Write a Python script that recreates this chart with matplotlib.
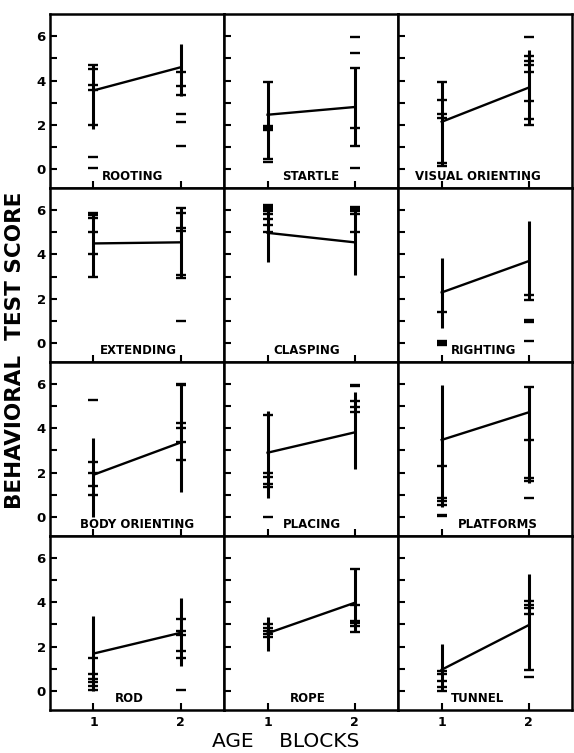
import matplotlib.pyplot as plt
from matplotlib.ticker import FixedLocator

# panel names, row by row
labels = ["ROOTING", "STARTLE", "VISUAL ORIENTING",
          "EXTENDING", "CLASPING", "RIGHTING",
          "BODY ORIENTING", "PLACING", "PLATFORMS",
          "ROD", "ROPE", "TUNNEL"]

blocks = [1, 2]

# mean score at age block 1 and 2
mean1 = [3.55, 2.45, 2.13, 4.50, 4.98, 2.28, 1.90, 2.90, 3.48, 1.68, 2.60, 0.95]
mean2 = [4.60, 2.80, 3.68, 4.55, 4.55, 3.70, 3.36, 3.82, 4.73, 2.62, 3.98, 2.97]

# vertical range bars
bar1_lo = [1.80, 0.45, 0.15, 3.00, 3.65, 0.65, 0.00, 0.87, 0.46, 0.00, 1.80, 0.00]
bar1_hi = [4.75, 3.95, 3.95, 5.90, 6.30, 3.85, 3.55, 4.80, 5.95, 3.38, 3.35, 2.10]
bar2_lo = [3.30, 1.05, 1.98, 3.00, 3.05, 1.93, 1.10, 2.18, 1.53, 1.10, 2.65, 0.95]
bar2_hi = [5.65, 4.55, 5.40, 6.10, 6.20, 5.50, 6.00, 5.65, 5.88, 4.18, 5.50, 5.30]

# individual scores (short dashes)
scores1 = [
    [4.7, 4.5, 3.8, 3.55, 2.0, 0.55, 0.05],
    [3.95, 1.95, 1.85, 1.75, 0.45, 0.3],
    [3.95, 3.1, 2.5, 2.3, 0.25, 0.15],
    [5.9, 5.8, 5.65, 5.0, 4.0, 3.0],
    [6.25, 6.15, 6.05, 5.95, 5.85, 5.6, 5.35, 5.0],
    [1.4, 0.1, 0.0, -0.1],
    [5.3, 2.5, 2.0, 1.4, 1.0],
    [4.6, 2.0, 1.8, 1.5, 1.35, 0.0],
    [2.3, 0.85, 0.7, 0.55, 0.1, 0.05],
    [1.5, 0.75, 0.55, 0.4, 0.2, 0.05],
    [3.0, 2.85, 2.7, 2.55, 2.45],
    [0.9, 0.75, 0.45, 0.15, 0.0],
]
scores2 = [
    [4.4, 3.75, 3.35, 2.5, 2.1, 1.05],
    [5.95, 5.25, 4.55, 1.85, 1.05, 0.05],
    [5.95, 5.1, 4.9, 4.7, 4.4, 3.05, 2.25, 2.0],
    [6.1, 5.9, 5.2, 5.05, 3.05, 2.95, 1.0],
    [6.15, 6.05, 5.95, 5.85, 5.0],
    [2.15, 1.95, 1.05, 0.95, 0.1],
    [6.0, 5.95, 4.25, 4.0, 3.4, 2.55],
    [5.95, 5.9, 5.25, 4.95, 4.75],
    [5.88, 3.48, 1.75, 1.6, 0.85],
    [3.25, 2.7, 2.5, 1.8, 1.5, 0.05],
    [5.5, 3.9, 3.15, 3.05, 2.95, 2.65],
    [4.05, 3.9, 3.75, 3.45, 0.95, 0.6],
]

# where the panel names sit (x in block units)
label_x = [1.45, 1.49, 1.41, 1.52, 1.45, 1.48, 1.50, 1.51, 1.64, 1.41, 1.46, 1.41]

plt.rcParams['font.family'] = ['DejaVu Sans']

fig, axes = plt.subplots(4, 3, figsize=(5.74, 7.53), dpi=100, sharex=True, sharey=True)
fig.subplots_adjust(left=0.087, right=0.997, top=0.981, bottom=0.057, hspace=0, wspace=0)

for i, ax in enumerate(axes.flat):
    row, col = divmod(i, 3)

    ax.vlines(1, bar1_lo[i], bar1_hi[i], color='black', lw=2.2)
    ax.vlines(2, bar2_lo[i], bar2_hi[i], color='black', lw=2.2)
    ax.plot(blocks, [mean1[i], mean2[i]], color='black', lw=1.7)
    ax.plot([1] * len(scores1[i]), scores1[i], ls='none', marker='_',
            ms=6.5, mew=1.7, color='black')
    ax.plot([2] * len(scores2[i]), scores2[i], ls='none', marker='_',
            ms=6.5, mew=1.7, color='black')

    ax.text(label_x[i], -0.5, labels[i], ha='center', va='baseline',
            fontsize=8.5, fontweight='bold')

    ax.set_xlim(0.5, 2.5)
    ax.set_ylim(-0.88, 7.0)
    ax.xaxis.set_major_locator(FixedLocator(blocks))
    ax.yaxis.set_major_locator(FixedLocator([0, 2, 4, 6]))
    ax.yaxis.set_minor_locator(FixedLocator([1, 3, 5]))
    ax.tick_params(axis='both', which='both', direction='in', length=5, width=1.5,
                   top=False, right=False)
    ax.tick_params(axis='y', which='major', pad=3, labelsize=9.5)
    ax.tick_params(axis='x', which='major', pad=4, labelsize=9)
    for lab in ax.get_xticklabels() + ax.get_yticklabels():
        lab.set_fontweight('bold')
    for sp in ax.spines.values():
        sp.set_linewidth(1.8)
    if col != 0:
        ax.tick_params(axis='y', labelleft=False)
    if row != 3:
        ax.tick_params(axis='x', labelbottom=False)

fig.text(0.026, 0.535, "BEHAVIORAL  TEST SCORE", rotation=90, ha='center', va='center',
         fontsize=15.5, fontweight='bold')
fig.text(0.497, 0.015, "AGE    BLOCKS", ha='center', va='center', fontsize=14.5)

plt.savefig("out.png", dpi=100)
